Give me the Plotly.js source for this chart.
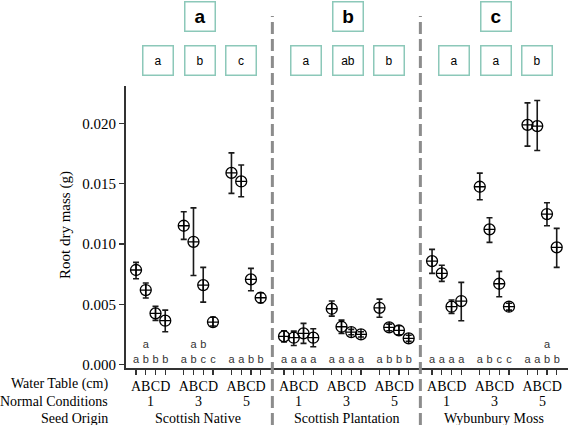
<!DOCTYPE html>
<html><head><meta charset="utf-8">
<script src="https://cdn.plot.ly/plotly-3.0.1.min.js"></script>
<style>html,body{margin:0;padding:0;background:#fff}#chart{width:568px;height:425px}</style>
</head><body><div id="chart"></div>
<script>
// ---- data ----
const origins = ["Scottish Native", "Scottish Plantation", "Wybunbury Moss"];
const originLetters = ["a", "b", "c"];
const conditions = ["1", "3", "5"];
const waterTables = ["A", "B", "C", "D"];
const conditionLetters = [["a","b","c"], ["a","ab","b"], ["a","a","b"]];

// root dry mass (g), order: condition 1 A-D, condition 3 A-D, condition 5 A-D
const snMean  = [0.00785,0.00619,0.00426,0.00365, 0.01152,0.01019,0.00660,0.00354, 0.01590,0.01519,0.00707,0.00555];
const snUpper = [0.00848,0.00677,0.00484,0.00453, 0.01268,0.01300,0.00807,0.00393, 0.01756,0.01655,0.00799,0.00597];
const snLower = [0.00713,0.00553,0.00368,0.00273, 0.01039,0.00740,0.00519,0.00321, 0.01420,0.01392,0.00613,0.00514];

const spMean  = [0.00235,0.00224,0.00260,0.00224, 0.00464,0.00315,0.00271,0.00252, 0.00472,0.00310,0.00285,0.00219];
const spUpper = [0.00282,0.00279,0.00343,0.00298, 0.00528,0.00370,0.00293,0.00273, 0.00544,0.00337,0.00323,0.00244];
const spLower = [0.00188,0.00160,0.00177,0.00149, 0.00403,0.00260,0.00249,0.00230, 0.00393,0.00282,0.00249,0.00194];

const wmMean  = [0.00859,0.00757,0.00481,0.00528, 0.01475,0.01122,0.00671,0.00481, 0.01988,0.01978,0.01249,0.00973];
const wmUpper = [0.00956,0.00824,0.00536,0.00683, 0.01588,0.01218,0.00774,0.00509, 0.02170,0.02190,0.01342,0.01130];
const wmLower = [0.00757,0.00691,0.00426,0.00365, 0.01367,0.01014,0.00563,0.00453, 0.01812,0.01776,0.01152,0.00807];

const snLetters = ["a","ab","b","b", "a","ab","bc","c", "a","a","b","b"];
const spLetters = ["a","a","a","a", "a","a","a","a", "a","b","b","b"];
const wmLetters = ["a","a","a","a", "a","b","c","c", "a","a","ab","b"];

const yTicks = [0, 0.005, 0.010, 0.015, 0.020];

// ---- layout helpers ----
const P = 15.2, G = 4.9;
const W = 568, H = 425, ML = 126, MT = 86, MB = 57;
const PW = W - ML, PH = H - MT - MB;
const xr = [-1.03, 44.36];
const yr = [-0.00027, 0.0231];
function pos(panel, g, k){ return panel*P + g*G + k; }
function pxToPaperX(px){ return (px - ML)/PW; }
function pxToPaperY(py){ return (H - MB - py)/PH; }
function dataToPaperX(x){ return (x - xr[0])/(xr[1]-xr[0]); }

const means = [snMean, spMean, wmMean];
const uppers = [snUpper, spUpper, wmUpper];
const lowers = [snLower, spLower, wmLower];
const letters = [snLetters, spLetters, wmLetters];

const traces = [];
const tickvals = [], ticktext = [];
const annotations = [];
const shapes = [];
const serif = "Liberation Serif, Times New Roman, serif";
const sans = "Liberation Sans, Arial, sans-serif";

for (let p = 0; p < 3; p++) {
  const xs = [];
  for (let g = 0; g < 3; g++) for (let k = 0; k < 4; k++) {
    xs.push(pos(p, g, k));
    tickvals.push(pos(p, g, k));
    ticktext.push(waterTables[k]);
  }
  const m = means[p];
  traces.push({
    type: "scatter", mode: "markers", x: xs, y: m, showlegend: false, hoverinfo: "skip",
    marker: {symbol: "circle-cross-open", size: 11, color: "#000", line: {width: 1.3, color: "#000"}},
    error_y: {type: "data", symmetric: false,
      array: uppers[p].map((u, i) => u - m[i]),
      arrayminus: lowers[p].map((l, i) => m[i] - l),
      color: "#1a1a1a", thickness: 1.6, width: 3}
  });
  const lowTxt = letters[p].map(s => s.slice(-1));
  const upTxt = letters[p].map(s => s.length > 1 ? s[0] : "");
  traces.push({type: "scatter", mode: "text", x: xs, y: xs.map(() => 0.00036), text: lowTxt,
    textfont: {family: sans, size: 11, color: "#333"}, showlegend: false, hoverinfo: "skip"});
  traces.push({type: "scatter", mode: "text", x: xs, y: xs.map(() => 0.00158), text: upTxt,
    textfont: {family: sans, size: 11, color: "#333"}, showlegend: false, hoverinfo: "skip"});

  // condition numbers
  for (let g = 0; g < 3; g++) {
    annotations.push({xref: "x", yref: "paper", x: pos(p, g, 1.5), y: pxToPaperY(401),
      text: conditions[g], showarrow: false, font: {family: serif, size: 14, color: "#000"},
      xanchor: "center", yanchor: "middle"});
  }
  // origin labels
  annotations.push({xref: "x", yref: "paper", x: pos(p, 1, 1.5), y: pxToPaperY(418),
    text: origins[p], showarrow: false, font: {family: serif, size: 14, color: "#000"},
    xanchor: "center", yanchor: "middle"});

  // top boxes
  const c = p*P + 6.55;
  annotations.push({xref: "x", yref: "paper", x: c, y: pxToPaperY(16.5),
    text: "<b>" + originLetters[p] + "</b>", showarrow: false,
    font: {family: sans, size: 19, color: "#000"}, width: 29, height: 28,
    bordercolor: "#8cc8b9", borderwidth: 1.5, borderpad: 0, xanchor: "center", yanchor: "middle"});
  for (let g = 0; g < 3; g++) {
    annotations.push({xref: "x", yref: "paper", x: c + (g-1)*4.27, y: pxToPaperY(61),
      text: conditionLetters[p][g], showarrow: false,
      font: {family: sans, size: 12, color: "#000"}, width: 29, height: 28,
      bordercolor: "#8cc8b9", borderwidth: 1.5, borderpad: 0, xanchor: "center", yanchor: "middle"});
  }
  // separators
  if (p > 0) {
    const xd = dataToPaperX(pos(p, 0, 0) - 1.2);
    shapes.push({type: "line", xref: "paper", yref: "paper", x0: xd, x1: xd,
      y0: pxToPaperY(H), y1: pxToPaperY(16),
      line: {color: "#8c8c8c", width: 3, dash: "12px,5px"}});
  }
}

// row labels
[["Water Table (cm)", 384], ["Normal Conditions", 401], ["Seed Origin", 418]].forEach(([t, py]) => {
  annotations.push({xref: "paper", yref: "paper", x: pxToPaperX(110), y: pxToPaperY(py),
    text: t, showarrow: false, font: {family: serif, size: 14, color: "#000"},
    xanchor: "right", yanchor: "middle"});
});
// y title
annotations.push({xref: "paper", yref: "paper", x: pxToPaperX(65), y: pxToPaperY(225),
  text: "Root dry mass (g)", textangle: -90, showarrow: false,
  font: {family: serif, size: 15, color: "#000"}, xanchor: "center", yanchor: "middle"});

const layout = {
  width: W, height: H, margin: {l: ML, r: 0, t: MT, b: MB, pad: 0},
  paper_bgcolor: "#fff", plot_bgcolor: "#fff", showlegend: false,
  xaxis: {range: xr, tickvals: tickvals, ticktext: ticktext, tickangle: 0, showgrid: false, zeroline: false,
    showline: true, linecolor: "#333", linewidth: 1.5, ticks: "outside", ticklen: 5, tickwidth: 1.2,
    tickcolor: "#333", tickfont: {family: serif, size: 14, color: "#000"}, fixedrange: true},
  yaxis: {range: yr, tickvals: yTicks, ticktext: yTicks.map(v => v.toFixed(3)), showgrid: false,
    zeroline: false, showline: true, linecolor: "#333", linewidth: 2, ticks: "outside", ticklen: 5,
    tickwidth: 1.2, tickcolor: "#333", tickfont: {family: serif, size: 15, color: "#000"}, fixedrange: true},
  annotations: annotations, shapes: shapes
};
Plotly.newPlot("chart", traces, layout, {displayModeBar: false, staticPlot: true});
</script></body></html>
